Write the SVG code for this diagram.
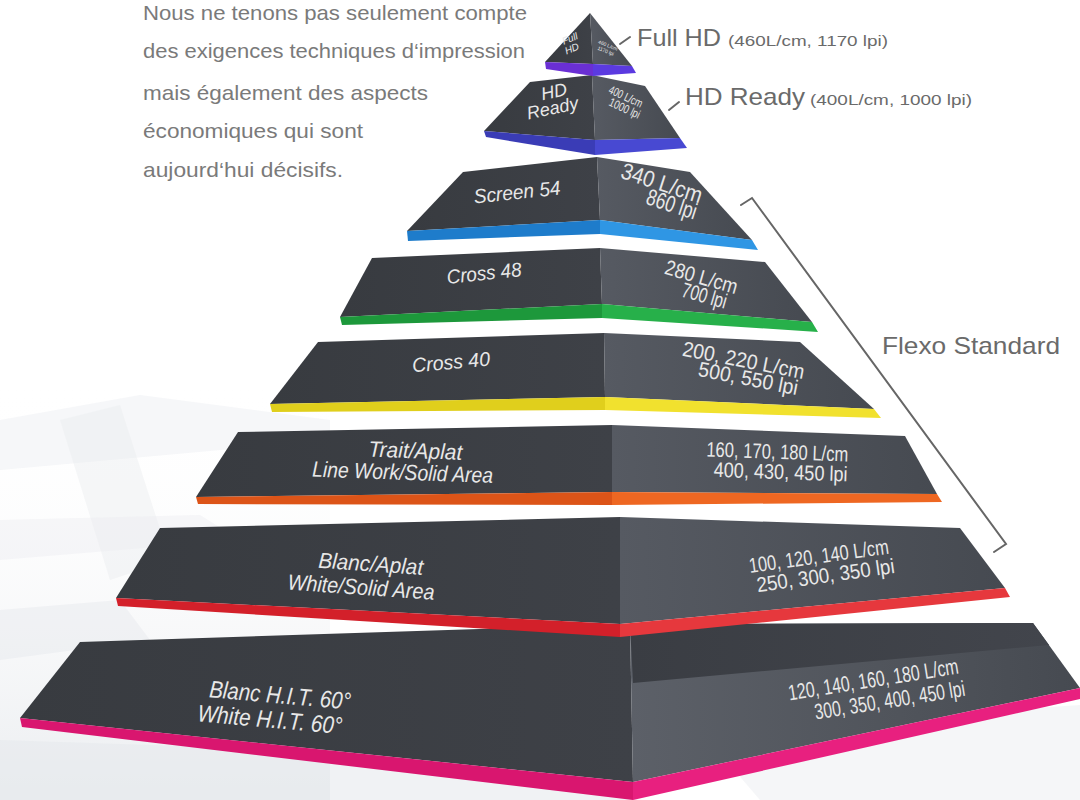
<svg xmlns="http://www.w3.org/2000/svg" width="1080" height="800" viewBox="0 0 1080 800">
<defs>
<linearGradient id="gL" x1="0" y1="0" x2="1" y2="0"><stop offset="0" stop-color="#383b40"/><stop offset="1" stop-color="#3e4147"/></linearGradient>
<linearGradient id="gR" x1="0" y1="0" x2="1" y2="0"><stop offset="0" stop-color="#565a62"/><stop offset="1" stop-color="#464a51"/></linearGradient>
<linearGradient id="gR8" x1="0" y1="0" x2="1" y2="0"><stop offset="0" stop-color="#5c6068"/><stop offset="0.6" stop-color="#50545b"/><stop offset="1" stop-color="#464a51"/></linearGradient>
<linearGradient id="gLedge" x1="0" y1="0" x2="1" y2="0"><stop offset="0" stop-color="#3a3d43"/><stop offset="1" stop-color="#42454c"/></linearGradient>
<linearGradient id="gBg" x1="0" y1="0" x2="0" y2="1"><stop offset="0" stop-color="#ffffff" stop-opacity="0"/><stop offset="1" stop-color="#dde1e6"/></linearGradient>
<style>
.fl{fill:url(#gL)}
.fr{fill:url(#gR)}
.para{font-family:"Liberation Sans",Arial,sans-serif;font-size:21px;fill:#7a7a7a}
.big{font-family:"Liberation Sans",Arial,sans-serif;font-size:24px;fill:#6a6a6a}
.sml{font-family:"Liberation Sans",Arial,sans-serif;font-size:15px;fill:#6a6a6a}
.ti{font-family:"Liberation Sans",Arial,sans-serif;font-style:italic;fill:#e8e8e8;text-anchor:middle}
.tn{font-family:"Liberation Sans",Arial,sans-serif;fill:#e8e8e8;text-anchor:middle}
.lead{stroke:#666;stroke-width:2;fill:none;stroke-linecap:round}
</style>
</defs>
<rect width="1080" height="800" fill="#ffffff"/>
<g id="background">
<rect x="0" y="380" width="330" height="420" fill="url(#gBg)" opacity="0.6"/>
<polygon points="0,420 140,395 330,420 330,440 0,470" fill="#eef0f3" opacity="0.5"/>
<polygon points="60,420 120,405 170,560 110,580" fill="#e8ebee" opacity="0.4"/>
<polygon points="0,520 200,515 240,540 0,560" fill="#eaecef" opacity="0.4"/>
<polygon points="0,610 120,600 150,640 0,660" fill="#e4e7ea" opacity="0.4"/>
<polygon points="0,740 300,750 640,800 0,800" fill="#e6e9ec" opacity="0.6"/>
<polygon points="700,730 1080,705 1080,800 760,800" fill="#f2f4f6" opacity="0.8"/>
</g>
<g id="intro-text">
<text class="para" x="143" y="20" textLength="384" lengthAdjust="spacingAndGlyphs">Nous ne tenons pas seulement compte</text>
<text class="para" x="143" y="58" textLength="382" lengthAdjust="spacingAndGlyphs">des exigences techniques d‘impression</text>
<text class="para" x="143" y="100" textLength="285" lengthAdjust="spacingAndGlyphs">mais également des aspects</text>
<text class="para" x="143" y="138" textLength="220" lengthAdjust="spacingAndGlyphs">économiques qui sont</text>
<text class="para" x="143" y="177" textLength="200" lengthAdjust="spacingAndGlyphs">aujourd‘hui décisifs.</text>
</g>
<g id="tier8">
<polygon class="fl" points="80,642 630,624 633,782 20,718"/>
<polygon fill="url(#gR8)" points="630,624 1033,623 1080,688 633,782"/>
<polygon fill="url(#gLedge)" points="630,624 1033,623 1049,645 633,683"/>
<polygon fill="#d9166f" points="20,718 633,782 633,800 22,727"/>
<polygon fill="#e8207f" points="633,782 1080,688 1080,699 633,800"/>
<g transform="rotate(5 275 708)">
<text class="ti" x="279" y="703" font-size="24" textLength="142" lengthAdjust="spacingAndGlyphs">Blanc H.I.T. 60°</text>
<text class="ti" x="271" y="728" font-size="24" textLength="145" lengthAdjust="spacingAndGlyphs">White H.I.T. 60°</text>
</g>
<g transform="rotate(-9 881 690)">
<text class="tn" x="875" y="686" font-size="22" textLength="172" lengthAdjust="spacingAndGlyphs">120, 140, 160, 180 L/cm</text>
<text class="tn" x="888" y="709" font-size="22" textLength="152" lengthAdjust="spacingAndGlyphs">300, 350, 400, 450 lpi</text>
</g>
</g>
<g id="tier7">
<polygon class="fl" points="160,528 620,517 620,624 116,598"/>
<polygon class="fr" points="620,517 960,528 1005,588 620,624"/>
<polygon fill="#d3202a" points="116,598 620,624 620,637 118,606"/>
<polygon fill="#e6383d" points="620,624 1005,588 1010,597 620,637"/>
<g transform="rotate(4 366 575)">
<text class="ti" x="370" y="571" font-size="22" textLength="105" lengthAdjust="spacingAndGlyphs">Blanc/Aplat</text>
<text class="ti" x="362" y="595" font-size="22" textLength="147" lengthAdjust="spacingAndGlyphs">White/Solid Area</text>
</g>
<g transform="rotate(-8 822 565)">
<text class="tn" x="820" y="563" font-size="21" textLength="141" lengthAdjust="spacingAndGlyphs">100, 120, 140 L/cm</text>
<text class="tn" x="824" y="583" font-size="21" textLength="139" lengthAdjust="spacingAndGlyphs">250, 300, 350 lpi</text>
</g>
</g>
<g id="tier6">
<polygon class="fl" points="238,432 612,425 612,492 196,497"/>
<polygon class="fr" points="612,425 905,436 937,494 612,492"/>
<polygon fill="#dc5418" points="196,497 612,492 612,505 198,504"/>
<polygon fill="#ee6722" points="612,492 937,494 942,502 612,505"/>
<g transform="rotate(2 409 461)">
<text class="ti" x="415" y="458" font-size="22" textLength="94" lengthAdjust="spacingAndGlyphs">Trait/Aplat</text>
<text class="ti" x="403" y="480" font-size="22" textLength="181" lengthAdjust="spacingAndGlyphs">Line Work/Solid Area</text>
</g>
<g transform="rotate(2 779 462)">
<text class="tn" x="777" y="459" font-size="21" textLength="142" lengthAdjust="spacingAndGlyphs">160, 170, 180 L/cm</text>
<text class="tn" x="781" y="479" font-size="21" textLength="134" lengthAdjust="spacingAndGlyphs">400, 430, 450 lpi</text>
</g>
</g>
<g id="tier5">
<polygon class="fl" points="318,342 604,333 605,397 270,404"/>
<polygon class="fr" points="604,333 800,342 874,409 605,397"/>
<polygon fill="#e0cf1c" points="270,404 605,397 605,410 272,412"/>
<polygon fill="#f1e12e" points="605,397 874,409 881,418 605,410"/>
<text class="ti" transform="translate(451 362) rotate(-5)" x="0" y="7" font-size="20" textLength="78" lengthAdjust="spacingAndGlyphs">Cross 40</text>
<g transform="translate(746 369) rotate(11)">
<text class="tn" x="-4" y="-1" font-size="21" textLength="124" lengthAdjust="spacingAndGlyphs">200, 220 L/cm</text>
<text class="tn" x="4" y="16" font-size="21" textLength="101" lengthAdjust="spacingAndGlyphs">500, 550 lpi</text>
</g>
</g>
<g id="tier4">
<polygon class="fl" points="372,258 600,248 602,304 340,317"/>
<polygon class="fr" points="600,248 765,262 812,322 602,304"/>
<polygon fill="#1d983b" points="340,317 602,304 602,318 342,325"/>
<polygon fill="#27b04a" points="602,304 812,322 818,332 602,318"/>
<text class="ti" transform="translate(484 273) rotate(-6)" x="0" y="7" font-size="20" textLength="75" lengthAdjust="spacingAndGlyphs">Cross 48</text>
<g transform="translate(703 286) rotate(16)">
<text class="tn" x="-4" y="-1" font-size="21" textLength="75" lengthAdjust="spacingAndGlyphs">280 L/cm</text>
<text class="tn" x="4" y="16" font-size="21" textLength="46" lengthAdjust="spacingAndGlyphs">700 lpi</text>
</g>
</g>
<g id="tier3">
<polygon class="fl" points="463,172 597,157 600,220 407,231"/>
<polygon class="fr" points="597,157 690,172 752,240 600,220"/>
<polygon fill="#1e7ccb" points="407,231 600,220 600,234 408,241"/>
<polygon fill="#2f96e4" points="600,220 752,240 758,250 600,234"/>
<text class="ti" transform="translate(517 192) rotate(-6)" x="0" y="7" font-size="20" textLength="87" lengthAdjust="spacingAndGlyphs">Screen 54</text>
<g transform="translate(667 193) rotate(18)">
<text class="tn" x="-8" y="0" font-size="23" textLength="84" lengthAdjust="spacingAndGlyphs">340 L/cm</text>
<text class="tn" x="8" y="17" font-size="23" textLength="52" lengthAdjust="spacingAndGlyphs">860 lpi</text>
</g>
</g>
<g id="tier2">
<polygon class="fl" points="530,82 592,75 595,140 484,131"/>
<polygon class="fr" points="592,75 645,86 680,138 595,140"/>
<polygon fill="#3a3cb6" points="484,131 595,140 595,155 486,137"/>
<polygon fill="#4849d2" points="595,140 680,138 687,148 595,155"/>
<g transform="translate(553 101) rotate(-12)">
<text class="ti" x="3" y="-3" font-size="18">HD</text>
<text class="ti" x="-2" y="13" font-size="18">Ready</text>
</g>
<g transform="translate(625 103) rotate(25)">
<text class="tn" x="-2" y="-2" font-size="12" textLength="36" lengthAdjust="spacingAndGlyphs">400 L/cm</text>
<text class="tn" x="2" y="9" font-size="12" textLength="33" lengthAdjust="spacingAndGlyphs">1000 lpi</text>
</g>
</g>
<g id="tier1">
<polygon class="fl" points="590,13 545,62 593,64"/>
<polygon class="fr" points="590,13 593,64 632,66"/>
<polygon fill="#6a2fd4" points="545,62 593,64 593,76 546,69"/>
<polygon fill="#5b3ae0" points="593,64 632,66 636,73 593,76"/>
<g transform="translate(571 44) rotate(-22)">
<text class="ti" x="1" y="-2" font-size="10">Full</text>
<text class="ti" x="-1" y="8" font-size="10">HD</text>
</g>
<g transform="translate(607 48) rotate(22)">
<text class="tn" x="0" y="-1" font-size="5">460 L/cm</text>
<text class="tn" x="0" y="5" font-size="5">1170 lpi</text>
</g>
</g>
<g id="labels">
<text class="big" x="637" y="46" textLength="84" lengthAdjust="spacingAndGlyphs">Full HD</text>
<text class="sml" x="728" y="46" textLength="160" lengthAdjust="spacingAndGlyphs">(460L/cm, 1170 lpi)</text>
<text class="big" x="685" y="105" textLength="120" lengthAdjust="spacingAndGlyphs">HD Ready</text>
<text class="sml" x="810" y="105" textLength="162" lengthAdjust="spacingAndGlyphs">(400L/cm, 1000 lpi)</text>
<text class="big" x="882" y="354" font-size="23" textLength="178" lengthAdjust="spacingAndGlyphs">Flexo Standard</text>
</g>
<g id="connectors">
<line class="lead" x1="620" y1="44" x2="630" y2="37"/>
<line class="lead" x1="669" y1="110" x2="679" y2="102"/>
<polyline class="lead" stroke-width="1.8" points="741,205 752,198 1006,544 994,552"/>
</g>
</svg>
